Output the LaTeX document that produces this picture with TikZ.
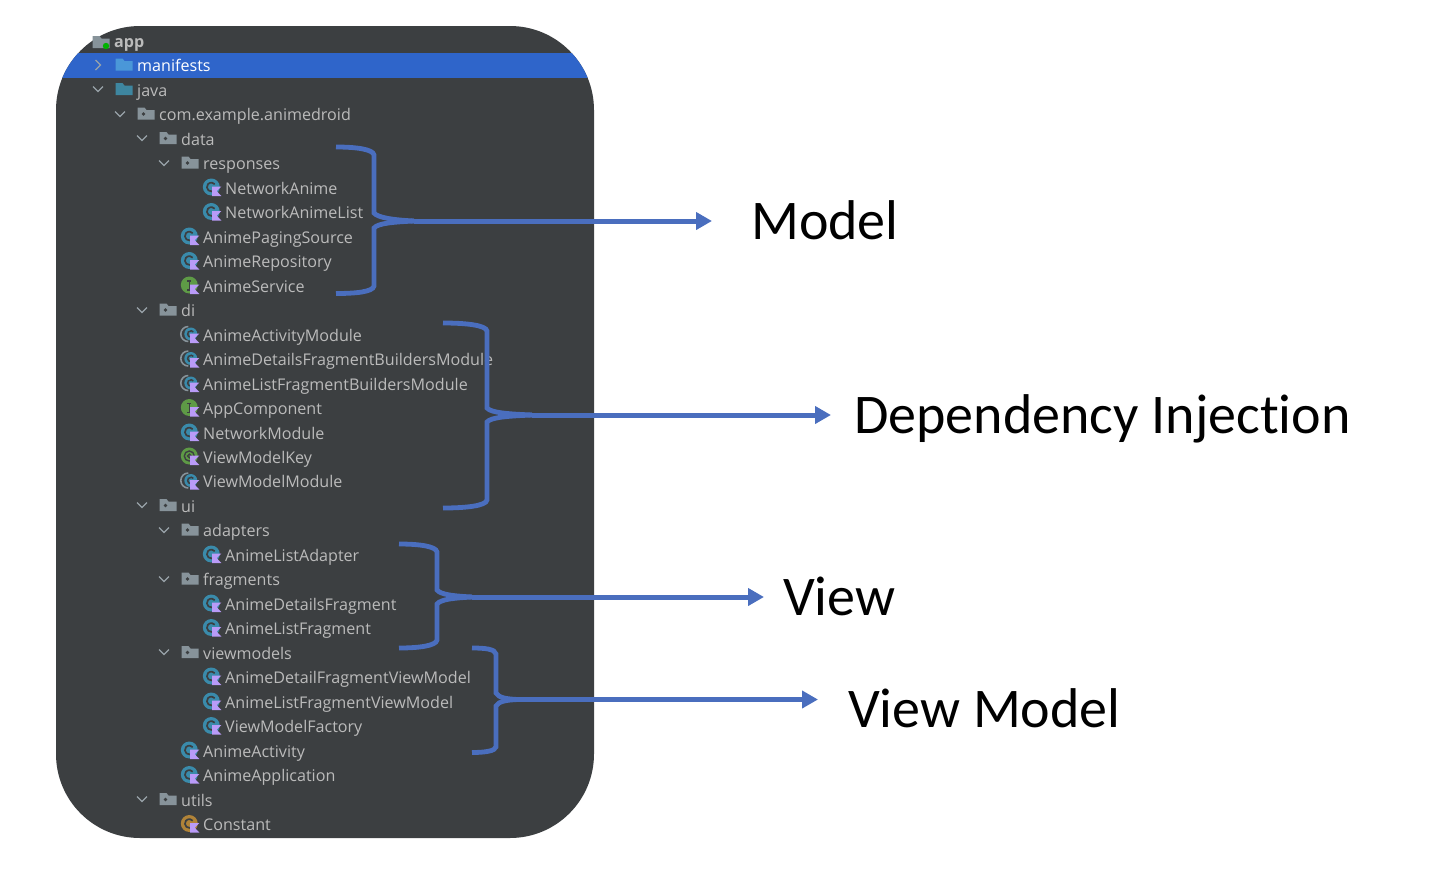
\documentclass[tikz,border=0pt]{standalone}
\usepackage{fontspec}
\setmainfont{Open Sans}
\newfontfamily\slidefont[Ligatures=NoCommon]{Carlito}
\usetikzlibrary{positioning,arrows.meta}
\definecolor{panelbg}{HTML}{3C3F41}
\definecolor{rowblue}{HTML}{2F65CA}
\definecolor{treetxt}{HTML}{BBBBBB}
\definecolor{foldergray}{HTML}{87939A}
\definecolor{javablue}{HTML}{3E86A0}
\definecolor{manifestblue}{HTML}{4A97D8}
\definecolor{braceblue}{HTML}{4A6EBE}
\definecolor{classteal}{HTML}{3A8BAB}
\definecolor{ifacegreen}{HTML}{5E9A46}
\definecolor{constorange}{HTML}{B08338}
\definecolor{ktpurple}{HTML}{B99BF8}
\tikzset{
  row/.style={anchor=west, inner sep=0pt, text=treetxt, text height=13pt, text depth=1pt, font=\fontsize{16.1}{18}\selectfont},
  bigword/.style={anchor=base west, inner sep=0pt, text=black, font=\slidefont\fontsize{56}{60}\selectfont},
  brace/.style={draw=braceblue, line width=4.8pt},
  pointer/.style={draw=braceblue, line width=5pt, -{Triangle[length=16pt,width=17pt]}},
  chev/.pic={\draw[foldergray!85!white, line width=1.3pt] (-5,-2.5) -- (0,2.5) -- (5,-2.5);},
  chevright/.pic={\draw[foldergray!85!white, line width=1.3pt] (-2.5,-5) -- (2.5,0) -- (-2.5,5);},
  folder/.pic={
    \fill[#1] (-8.5,6) -- (-8.5,-6) -- (-1.5,-6) -- (0.5,-3.5) -- (8.5,-3.5) -- (8.5,6) -- cycle;
    \fill[panelbg] (-2.5,0.5) circle (1.9);
  },
  plainfolder/.pic={
    \fill[#1] (-8.5,6) -- (-8.5,-6) -- (-1.5,-6) -- (0.5,-3.5) -- (8.5,-3.5) -- (8.5,6) -- cycle;
  },
  ktflag/.pic={
    \fill[ktpurple] (0.8,-0.5) -- (10,-0.5) -- (5.5,4.2) -- (10,9) -- (0.8,9) -- cycle;
  },
  kticon/.pic={
    \fill[#1] (0,0) circle (8.5);
    \draw[panelbg, line width=1.7pt] (3.4,2.85) arc (40:320:4.4);
    \pic {ktflag};
  },
  ktiface/.pic={
    \fill[ifacegreen] (0,0) circle (8.5);
    \draw[panelbg, line width=1.5pt] (-2,-4) -- (2,-4) (0,-4) -- (0,5) (-2,5) -- (2,5);
    \pic {ktflag};
  },
  ktannot/.pic={
    \fill[ifacegreen] (0,0) circle (8.5);
    \draw[panelbg, line width=1.4pt] (0,0) circle (5);
    \draw[panelbg, line width=1.4pt] (0,0) circle (1.8);
    \pic {ktflag};
  },
  ktmodule/.pic={
    \draw[foldergray, line width=1.6pt] (-1,7.5) arc (90:270:7.5);
    \fill[classteal] (1.5,0) circle (6.5);
    \draw[panelbg, line width=1.5pt] (4,2) arc (40:320:3.2);
    \pic {ktflag};
  }
}
\begin{document}
\begin{tikzpicture}[x=1pt, y=-1pt]
  \useasboundingbox (0,0) rectangle (1452,876);

  % Panel
  \fill[panelbg, rounded corners=84pt] (56,26) rectangle (594,838);
  \begin{scope}
    \clip[rounded corners=84pt] (56,26) rectangle (594,838);
    \fill[rowblue] (56,53) rectangle (594,78);
  \end{scope}

  % Rows
  \node (app) [row, font=\fontsize{16.1}{18}\selectfont\bfseries] at (114,41.5) {app};
  \node (manifests) [row, text=white] at (137,65.5) {manifests};
  \node (java) [row] at (137,90) {java};
  \node (pkg) [row] at (159,114.5) {com.example.animedroid};
  \node (data) [row] at (181,139) {data};
  \node (responses) [row] at (203,163.5) {responses};
  \node (netanime) [row] at (225,188) {NetworkAnime};
  \node (netlist) [row] at (225,212.5) {NetworkAnimeList};
  \node (paging) [row] at (203,237) {AnimePagingSource};
  \node (repo) [row] at (203,261.5) {AnimeRepository};
  \node (service) [row] at (203,286) {AnimeService};
  \node (di) [row] at (181,310.5) {di};
  \node (actmod) [row] at (203,335) {AnimeActivityModule};
  \node (detmod) [row] at (203,359.5) {AnimeDetailsFragmentBuildersModule};
  \node (listmod) [row] at (203,384) {AnimeListFragmentBuildersModule};
  \node (appcomp) [row] at (203,408.5) {AppComponent};
  \node (netmod) [row] at (203,433) {NetworkModule};
  \node (vmkey) [row] at (203,457) {ViewModelKey};
  \node (vmmod) [row] at (203,481.5) {ViewModelModule};
  \node (ui) [row] at (181,506) {ui};
  \node (adapters) [row] at (203,530.5) {adapters};
  \node (listadapter) [row] at (225,555) {AnimeListAdapter};
  \node (fragments) [row] at (203,579.5) {fragments};
  \node (detfrag) [row] at (225,604) {AnimeDetailsFragment};
  \node (listfrag) [row] at (225,628.5) {AnimeListFragment};
  \node (viewmodels) [row] at (203,653) {viewmodels};
  \node (detvm) [row] at (225,677) {AnimeDetailFragmentViewModel};
  \node (listvm) [row] at (225,702) {AnimeListFragmentViewModel};
  \node (vmfactory) [row] at (225,726.5) {ViewModelFactory};
  \node (activity) [row] at (203,751) {AnimeActivity};
  \node (application) [row] at (203,775.5) {AnimeApplication};
  \node (utils) [row] at (181,800) {utils};
  \node (constant) [row] at (203,824.5) {Constant};

  % Chevrons
  \pic at (98,65) {chevright};
  \pic at (98,89) {chev};
  \pic at (120,114) {chev};
  \pic at (142,138) {chev};
  \pic at (164,163) {chev};
  \pic at (142,310) {chev};
  \pic at (142,505) {chev};
  \pic at (164,530) {chev};
  \pic at (164,579) {chev};
  \pic at (164,652) {chev};
  \pic at (142,799) {chev};

  % Folders
  \pic at (101,42) {plainfolder=foldergray};
  \fill[green!70!black] (106,46) circle (3.2);
  \pic at ([xshift=-13pt, yshift=1pt]manifests.west) {plainfolder=manifestblue};
  \pic at ([xshift=-13pt, yshift=1pt]java.west) {plainfolder=javablue};
  \pic at ([xshift=-13pt, yshift=1pt]pkg.west) {folder=foldergray};
  \pic at ([xshift=-13pt, yshift=1pt]data.west) {folder=foldergray};
  \pic at ([xshift=-13pt, yshift=1pt]responses.west) {folder=foldergray};
  \pic at ([xshift=-13pt, yshift=1pt]di.west) {folder=foldergray};
  \pic at ([xshift=-13pt, yshift=1pt]ui.west) {folder=foldergray};
  \pic at ([xshift=-13pt, yshift=1pt]adapters.west) {folder=foldergray};
  \pic at ([xshift=-13pt, yshift=1pt]fragments.west) {folder=foldergray};
  \pic at ([xshift=-13pt, yshift=1pt]viewmodels.west) {folder=foldergray};
  \pic at ([xshift=-13pt, yshift=1pt]utils.west) {folder=foldergray};

  % Icons
  \pic at ([xshift=-13.7pt, yshift=1pt]netanime.west) {kticon=classteal};
  \pic at ([xshift=-13.7pt, yshift=1pt]netlist.west) {kticon=classteal};
  \pic at ([xshift=-13.7pt, yshift=1pt]paging.west) {kticon=classteal};
  \pic at ([xshift=-13.7pt, yshift=1pt]repo.west) {kticon=classteal};
  \pic at ([xshift=-13.7pt, yshift=1pt]service.west) {ktiface};
  \pic at ([xshift=-13.7pt, yshift=1pt]actmod.west) {ktmodule};
  \pic at ([xshift=-13.7pt, yshift=1pt]detmod.west) {ktmodule};
  \pic at ([xshift=-13.7pt, yshift=1pt]listmod.west) {ktmodule};
  \pic at ([xshift=-13.7pt, yshift=1pt]appcomp.west) {ktiface};
  \pic at ([xshift=-13.7pt, yshift=1pt]netmod.west) {kticon=classteal};
  \pic at ([xshift=-13.7pt, yshift=1pt]vmkey.west) {ktannot};
  \pic at ([xshift=-13.7pt, yshift=1pt]vmmod.west) {ktmodule};
  \pic at ([xshift=-13.7pt, yshift=1pt]listadapter.west) {kticon=classteal};
  \pic at ([xshift=-13.7pt, yshift=1pt]detfrag.west) {kticon=classteal};
  \pic at ([xshift=-13.7pt, yshift=1pt]listfrag.west) {kticon=classteal};
  \pic at ([xshift=-13.7pt, yshift=1pt]detvm.west) {kticon=classteal};
  \pic at ([xshift=-13.7pt, yshift=1pt]listvm.west) {kticon=classteal};
  \pic at ([xshift=-13.7pt, yshift=1pt]vmfactory.west) {kticon=classteal};
  \pic at ([xshift=-13.7pt, yshift=1pt]activity.west) {kticon=classteal};
  \pic at ([xshift=-13.7pt, yshift=1pt]application.west) {kticon=classteal};
  \pic at ([xshift=-13.7pt, yshift=1pt]constant.west) {kticon=constorange};

  % Labels
  \node (model) [bigword] at (751,239) {Model};
  \node (depinj) [bigword] at (854,433) {Dependency Injection};
  \node (view) [bigword] at (783,615) {View};
  \node (viewmodel) [bigword] at (848,727) {View Model};

  % Braces
  \coordinate (modeltip) at (414,221);
  \coordinate (depinjtip) at (532,415);
  \coordinate (viewtip) at (472,597);
  \coordinate (vmtip) at (518,699.5);
  \draw[brace] (336,147) .. controls (355,147) and (373,149) .. (374,155) -- (374,213)
    .. controls (378,218) and (395,220) .. (modeltip);
  \draw[brace] (336,293.5) .. controls (355,293.5) and (373,292) .. (374,286) -- (374,228)
    .. controls (378,223) and (395,222) .. (modeltip);
  \draw[brace] (443,323) .. controls (465,323) and (486,325) .. (487,331) -- (487,408)
    .. controls (491,413) and (510,414) .. (depinjtip);
  \draw[brace] (443,508) .. controls (465,508) and (486,506) .. (487,500) -- (487,422)
    .. controls (491,417) and (510,416) .. (depinjtip);
  \draw[brace] (399,544) .. controls (418,544) and (436,546) .. (437,552) -- (437,590)
    .. controls (441,595) and (455,596) .. (viewtip);
  \draw[brace] (399,648) .. controls (418,648) and (436,646) .. (437,640) -- (437,604)
    .. controls (441,599) and (455,598) .. (viewtip);
  \draw[brace] (472,648) .. controls (485,648) and (495,649) .. (496,654) -- (496,693)
    .. controls (499,698) and (507,699) .. (vmtip);
  \draw[brace] (472,752.5) .. controls (485,752.5) and (495,751) .. (496,747) -- (496,706)
    .. controls (499,701) and (507,700) .. (vmtip);

  % Arrows
  \draw[pointer, shorten >=39pt] (modeltip) -- (model.west |- modeltip);
  \draw[pointer, shorten >=23pt] (depinjtip) -- (depinj.west |- depinjtip);
  \draw[pointer, shorten >=19pt] (viewtip) -- (view.west |- viewtip);
  \draw[pointer, shorten >=30pt] (vmtip) -- (viewmodel.west |- vmtip);
\end{tikzpicture}
\end{document}
